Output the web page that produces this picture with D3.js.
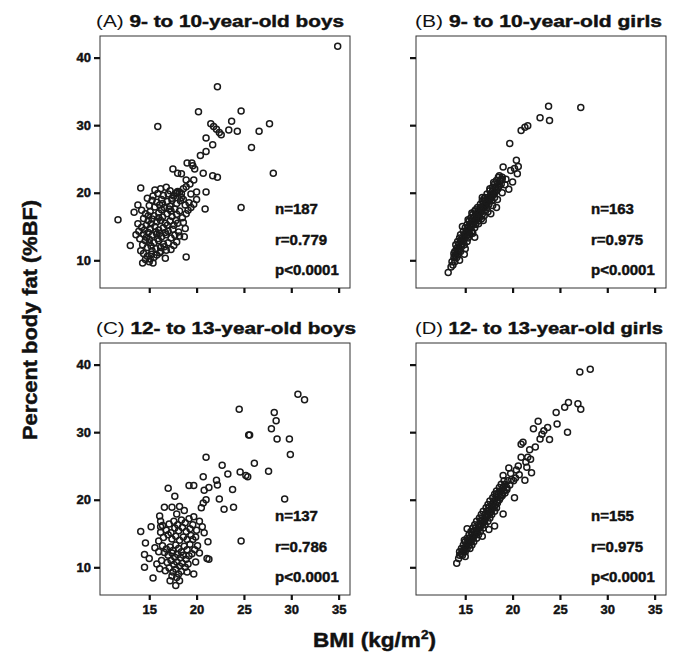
<!DOCTYPE html>
<html>
<head>
<meta charset="utf-8">
<script src="https://cdn.jsdelivr.net/npm/d3@7"></script>
<style>
  body { margin: 0; background: #fff; }
  text { font-family: Arial, "Liberation Sans", sans-serif; fill: #111; }
  .heavy { stroke: #111; stroke-width: 0.45px; }
</style>
</head>
<body>
<div id="chart"></div>
<script>
const width = 674, height = 655;
const pw = 250, ph = 252;

// tick values
const xTicks = [15, 20, 25, 30, 35];
const yTicks = [10, 20, 30, 40];

// panel titles and stats
const panelLetters = ["(A)", "(B)", "(C)", "(D)"];
const panelTitles = ["9- to 10-year-old boys", "9- to 10-year-old girls",
                     "12- to 13-year-old boys", "12- to 13-year-old girls"];
const panelN = ["n=187", "n=163", "n=137", "n=155"];
const panelR = ["r=0.779", "r=0.975", "r=0.786", "r=0.975"];
const panelP = ["p<0.0001", "p<0.0001", "p<0.0001", "p<0.0001"];

// [BMI, %BF]
const boys9 = [
  [34.9,41.7],[22.2,35.7],[20.2,32.0],[24.7,32.1],[15.9,29.8],[23.7,30.6],[27.7,30.2],[21.5,30.2],
  [21.8,29.8],[22.1,29.4],[22.4,28.9],[22.6,28.6],[23.4,29.3],[24.3,29.1],[26.6,29.1],[25.8,26.7],
  [21.0,28.1],[21.7,27.1],[21.0,26.1],[20.4,25.5],[19.0,24.4],[19.5,24.4],[19.6,24.0],[19.8,23.5],
  [17.5,23.5],[18.0,22.9],[18.4,22.8],[18.9,21.9],[19.7,21.9],[20.7,22.9],[21.7,22.5],[22.2,22.3],
  [28.1,22.9],[24.7,17.8],[20.9,17.6],[21.0,20.1],[20.0,20.1],[18.9,10.5],[11.7,16.0],[13.0,12.2],
  [14.1,20.7],[13.8,18.2],[13.4,17.1],[18.8,14.7],[18.7,13.5],[18.2,13.6],[17.9,12.7],[17.3,11.6],
  [16.7,10.3],[16.2,11.3],[18.4,19.9],[18.2,20.1],[17.9,20.0],[20.0,19.0],[19.7,18.3],[19.4,17.8],
  [19.2,18.5],
  [15.6,20.4],[16.2,20.6],[16.8,20.8],[17.2,20.3],[15.9,19.9],[16.5,19.6],[17.0,19.8],[17.6,19.5],
  [18.0,20.2],[18.6,20.6],[18.9,20.9],[19.3,21.3],
  [14.8,19.2],[15.3,18.9],[15.8,18.6],[16.3,19.0],[16.9,18.7],[17.4,18.9],[17.9,18.4],[18.3,18.8],
  [15.0,18.1],[15.6,17.9],[16.1,18.2],[16.6,17.8],[17.2,18.0],[17.7,17.6],[18.2,17.3],
  [14.2,17.4],[14.6,16.9],[15.1,17.2],[15.5,16.6],[16.0,17.0],[16.4,16.4],[16.9,16.9],[17.4,16.5],
  [17.9,16.8],[18.5,16.3],[14.4,16.2],[14.9,15.9],[15.3,16.1],[15.8,15.7],[16.2,15.9],[16.7,15.5],
  [17.2,15.8],[17.6,15.2],
  [13.8,15.4],[14.2,14.9],[14.7,15.2],[15.1,14.7],[15.6,15.0],[16.0,14.5],[16.5,14.8],[17.0,14.3],
  [17.5,14.6],[18.1,14.2],[13.9,14.3],[14.4,13.9],[14.9,14.1],[15.3,13.7],[15.8,13.9],[16.3,13.5],
  [16.8,13.8],[17.3,13.3],
  [14.0,13.2],[14.6,12.9],[15.0,13.1],[15.5,12.6],[16.0,12.9],[16.5,12.4],[17.0,12.6],[17.6,12.2],
  [14.3,12.3],[14.8,11.9],[15.2,12.1],[15.7,11.7],[16.2,11.9],[16.8,11.5],[13.6,13.8],[14.1,11.4],
  [14.4,11.0],[14.8,10.6],[15.2,10.9],[15.5,10.4],[14.6,10.1],[15.0,9.8],[15.4,9.6],[14.3,9.6],
  [15.8,10.8],[16.1,11.1],[15.1,10.2],
  [17.8,19.9],[18.4,19.3],[18.8,18.2],[19.1,17.4],[18.6,15.6],[18.0,15.5],[17.3,17.3],[18.9,16.9],
  [19.4,19.8],[16.7,14.1],[15.4,19.5],[16.0,16.3],[15.2,15.4],[14.5,14.5],[16.6,12.0],[15.9,13.2],
  [17.1,17.6],[16.4,18.4],[14.9,16.6],[17.8,15.9],[15.7,14.2],[16.9,15.2],[14.7,13.4],[17.4,19.2],
  [18.6,19.0],[15.3,11.4],[16.3,17.5],[15.0,12.6],[16.1,14.0],[17.7,13.7]
];

const girls9 = [
  [27.2,32.6],[23.8,32.8],[22.9,31.1],[23.9,30.7],[20.9,29.2],[21.3,29.7],[21.6,29.9],[19.7,27.3],
  [20.4,24.8],[19.0,23.8],[19.8,23.3],[20.2,23.6],[20.6,23.9],[20.5,22.8],[20.0,21.6],[19.6,20.5],
  [18.9,22.0],[18.6,22.5],[14.9,10.9],[13.2,8.2],[13.7,9.3],
  [13.5,9.0],[13.6,9.8],[13.9,9.8],[13.8,10.4],[14.1,10.4],[14.0,10.9],
  [13.9,11.3],[14.2,11.3],[14.5,11.3],[14.1,11.8],[14.4,11.8],
  [14.0,12.3],[14.3,12.3],[14.6,12.3],[14.9,12.3],[14.2,12.8],[14.5,12.8],[14.8,12.8],
  [14.4,13.3],[14.7,13.3],[15.0,13.3],[15.3,13.3],[14.5,13.8],[14.9,13.8],[15.2,13.8],
  [14.8,14.3],[15.1,14.3],[15.4,14.3],[15.7,14.3],[15.0,14.8],[15.3,14.8],[15.6,14.8],[16.0,14.8],
  [15.2,15.3],[15.5,15.3],[15.8,15.3],[16.1,15.3],[15.4,15.8],[15.7,15.8],[16.0,15.8],[16.4,15.8],
  [15.6,16.3],[15.9,16.3],[16.2,16.3],[16.5,16.3],[15.8,16.8],[16.1,16.8],[16.4,16.8],[16.8,16.8],
  [16.0,17.3],[16.4,17.3],[16.7,17.3],[17.0,17.3],[16.3,17.8],[16.6,17.8],[16.9,17.8],[17.3,17.8],
  [16.6,18.3],[16.9,18.3],[17.2,18.3],[17.5,18.3],[16.8,18.8],[17.1,18.8],[17.5,18.8],[17.8,18.8],
  [17.1,19.3],[17.4,19.3],[17.7,19.3],[18.1,19.3],[17.3,19.8],[17.7,19.8],[18.0,19.8],
  [17.6,20.3],[17.9,20.3],[18.3,20.3],[17.9,20.8],[18.2,20.8],[18.5,20.8],
  [18.1,21.3],[18.4,21.3],[18.8,21.3],[18.3,21.8],[18.7,21.8],[18.5,22.3],[18.9,22.3],
  [14.2,10.8],[14.3,11.6],[14.6,12.0],[14.6,13.0],[14.9,13.5],[15.1,14.0],[15.4,14.6],[15.6,15.1],
  [15.9,15.6],[16.2,16.0],[16.3,16.6],[16.6,17.0],[16.8,17.6],[17.1,18.0],[17.3,18.6],[17.6,19.0],
  [17.8,19.6],[18.1,20.0],[18.4,20.5],[18.6,21.0],[16.7,16.1],[17.0,16.6],[15.2,12.8],[13.8,11.0],
  [15.8,14.0],[16.4,15.4],[17.4,17.2],[17.9,18.1],[18.4,19.0],[18.9,20.0],[19.2,21.2],[19.3,22.0],
  [15.0,11.7],[16.0,13.4],[14.4,10.0],[13.9,10.6],[15.5,13.8],[16.9,15.9],[17.7,16.9],[18.3,17.8],
  [15.3,16.0],[16.1,17.5],[17.0,19.1],[17.6,20.6],[18.0,21.5],[16.8,19.3],[15.7,17.0],[14.7,15.0]
];

const boys12 = [
  [30.7,35.6],[31.4,34.8],[24.5,33.4],[28.2,32.9],[28.4,31.7],[27.9,30.5],[25.5,29.6],[25.6,29.6],
  [28.5,29.0],[29.8,29.0],[29.9,26.7],[21.0,26.3],[26.1,25.4],[22.7,25.1],[27.6,24.2],[24.6,24.1],
  [23.3,23.8],[25.2,23.6],[25.4,23.4],[22.1,22.9],[22.2,22.2],[20.7,23.4],[19.2,22.1],[19.7,22.1],
  [23.8,21.5],[21.3,21.8],[20.8,21.4],[22.4,20.1],[21.0,20.0],[20.7,19.5],[20.5,18.8],[22.9,18.6],
  [23.9,18.9],[29.3,20.1],[24.7,13.9],[17.0,21.7],[17.7,20.5],[16.6,18.9],[17.4,18.9],[18.2,19.0],
  [18.7,18.4],[17.9,17.9],[14.1,15.3],[15.2,16.0],[16.1,17.6],[16.2,16.8],[16.2,16.0],[14.6,13.6],
  [14.5,11.9],[15.0,11.3],[14.5,10.0],[15.4,8.4],[17.2,8.0],[17.8,7.3],[18.2,8.0],[19.7,9.0],
  [19.0,9.3],[21.2,13.8],[21.1,11.3],[21.3,11.2],[20.3,16.8],[20.6,16.0],[20.8,15.1],[20.0,15.5],
  [19.6,14.1],[19.9,14.5],
  [16.0,13.9],[16.4,13.2],[16.8,12.7],[17.2,13.0],[17.5,12.5],[17.8,13.3],[18.1,12.8],[18.4,12.3],
  [18.7,13.1],[19.0,12.6],[19.3,13.4],[16.6,12.2],[17.0,11.8],[17.4,12.1],[17.7,11.5],[18.0,11.9],
  [18.3,11.4],[18.6,11.8],[18.9,11.2],[19.2,11.7],[19.5,12.0],[16.3,11.0],[16.9,10.7],[17.3,11.0],
  [17.6,10.4],[17.9,10.8],[18.2,10.2],[18.5,10.6],[18.8,10.0],[19.1,10.5],[16.1,9.8],[16.7,9.5],
  [17.1,9.9],[17.5,9.3],[17.8,9.7],[18.1,9.0],[18.4,9.4],[17.4,8.7],[17.9,8.5],[16.5,14.4],
  [17.0,14.8],[17.4,14.2],[17.8,14.6],[18.2,14.0],[18.6,14.5],[19.0,14.1],[19.4,14.7],[16.2,15.2],
  [16.8,15.5],[17.3,15.1],[17.7,15.8],[18.1,15.4],[18.5,15.9],[18.9,15.3],[19.3,15.7],[19.6,16.3],
  [17.1,16.4],[17.6,16.8],[18.0,16.3],[18.4,17.0],[18.8,16.6],[19.2,17.2],[19.7,17.5],[16.0,12.3],
  [15.8,10.5],[19.8,12.6],[20.1,13.2],[20.3,12.1],[19.9,10.8],[15.6,12.9],[16.4,16.2]
];

const girls12 = [
  [28.2,39.3],[27.1,38.9],[25.9,34.4],[25.5,33.7],[24.6,32.9],[26.9,34.2],[27.2,33.4],[25.8,30.0],
  [24.7,31.2],[22.7,31.6],[23.7,30.7],[22.2,30.5],[23.1,29.7],[22.9,29.0],[23.9,28.9],[23.3,30.2],
  [21.1,28.5],[20.9,28.2],[21.8,27.4],[21.6,26.3],[20.9,26.3],[22.0,24.0],[21.3,22.9],[20.2,20.3],
  [19.6,24.7],[19.0,23.6],[19.8,23.9],[20.4,24.4],[20.7,23.7],[20.1,22.8],[19.4,21.8],[18.3,20.9],
  [19.0,17.9],[18.1,16.1],[15.2,15.7],[14.1,10.6],[14.3,11.3],
  [14.4,11.8],[14.7,11.8],[14.4,12.3],[14.7,12.3],[15.0,12.3],
  [14.6,12.8],[14.9,12.8],[15.2,12.8],[15.5,12.8],[14.8,13.3],[15.1,13.3],[15.4,13.3],[15.7,13.3],
  [15.0,13.8],[15.3,13.8],[15.6,13.8],[15.9,13.8],[15.2,14.3],[15.5,14.3],[15.8,14.3],[16.2,14.3],
  [15.4,14.8],[15.7,14.8],[16.0,14.8],[16.4,14.8],[15.6,15.3],[15.9,15.3],[16.2,15.3],[16.6,15.3],
  [15.8,15.8],[16.1,15.8],[16.5,15.8],[16.9,15.8],[16.0,16.3],[16.4,16.3],[16.7,16.3],[17.1,16.3],
  [16.2,16.8],[16.6,16.8],[17.0,16.8],[17.4,16.8],[16.5,17.3],[16.8,17.3],[17.2,17.3],[17.6,17.3],
  [16.7,17.8],[17.1,17.8],[17.4,17.8],[17.8,17.8],[16.9,18.3],[17.3,18.3],[17.7,18.3],[18.1,18.3],
  [17.2,18.8],[17.5,18.8],[17.9,18.8],[18.3,18.8],[17.4,19.3],[17.8,19.3],[18.2,19.3],
  [17.6,19.8],[18.0,19.8],[18.4,19.8],[17.9,20.3],[18.3,20.3],[18.7,20.3],
  [18.1,20.8],[18.5,20.8],[18.9,20.8],[18.3,21.3],[18.7,21.3],[19.1,21.3],
  [18.6,21.8],[19.0,21.8],[18.8,22.3],[19.2,22.3],[19.1,22.8],[19.5,22.8],
  [14.6,12.0],[14.9,12.5],[15.1,13.0],[15.3,13.6],[15.6,14.0],[15.9,14.6],[16.1,15.0],[16.3,15.6],
  [16.6,16.0],[16.9,16.6],[17.0,17.0],[17.3,17.6],[17.6,18.0],[17.8,18.6],[18.1,19.0],[18.4,19.5],
  [18.6,20.0],[18.9,20.6],[19.2,21.0],[19.4,21.5],[19.7,22.2],[19.9,23.0],[20.3,23.2],[20.6,25.0],
  [21.4,25.6],[21.9,26.0],[22.4,27.8],[21.5,24.8],[16.8,14.6],[17.5,15.6],[14.9,14.0],[15.0,11.6]
];

const panelData = [boys9, girls9, boys12, girls12];
const panelPos = [[100, 36], [416, 36], [100, 343], [416, 343]];
const titleWidths = [248, 247, 260, 248];

const x = d3.scaleLinear().domain([9.8, 36.2]).range([0, pw]);
const y = d3.scaleLinear().domain([5.9, 43.2]).range([ph, 0]);

const svg = d3.select("#chart")
  .append("svg")
  .attr("width", width)
  .attr("height", height);

panelData.forEach((data, i) => {
  const [left, top] = panelPos[i];
  const leftCol = i % 2 === 0;
  const bottomRow = i >= 2;
  const g = svg.append("g").attr("transform", `translate(${left},${top})`);

  // title (stretched to the width in the picture)
  const title = g.append("text")
    .attr("x", left === 100 ? -4 : -1)
    .attr("y", -9)
    .attr("textLength", titleWidths[i])
    .attr("lengthAdjust", "spacingAndGlyphs")
    .style("font-size", "17px");
  title.append("tspan").style("font-weight", "normal").text(panelLetters[i] + " ");
  title.append("tspan").attr("class", "heavy").style("font-weight", "bold").text(panelTitles[i]);

  // frame
  g.append("rect")
    .attr("width", pw)
    .attr("height", ph)
    .attr("fill", "none")
    .attr("stroke", "#333")
    .attr("stroke-width", 1);

  // axes
  const xAxis = d3.axisBottom(x).tickValues(xTicks).tickSize(5).tickPadding(5);
  if (!bottomRow) xAxis.tickFormat("");
  const gx = g.append("g").attr("transform", `translate(0,${ph})`).call(xAxis);

  const yAxis = d3.axisLeft(y).tickValues(yTicks).tickSize(6).tickPadding(3);
  if (!leftCol) yAxis.tickFormat("");
  const gy = g.append("g").call(yAxis);

  [gx, gy].forEach(a => {
    a.select(".domain").remove();
    a.selectAll(".tick line").attr("stroke", "#111").attr("stroke-width", 2.2);
    a.selectAll(".tick text")
      .attr("class", "heavy")
      .style("font-size", "13px")
      .style("font-weight", "bold")
      .attr("fill", "#111");
  });

  // points
  g.append("g")
    .selectAll("circle")
    .data(data)
    .join("circle")
    .attr("cx", d => x(d[0]))
    .attr("cy", d => y(d[1]))
    .attr("r", 3)
    .attr("fill", "none")
    .attr("stroke", "#1a1a1a")
    .attr("stroke-width", 1.5);

  // stats
  [panelN[i], panelR[i], panelP[i]].forEach((s, k) => {
    g.append("text")
      .attr("class", "heavy")
      .attr("x", 175)
      .attr("y", 178 + k * 30.5)
      .style("font-size", "15px")
      .style("font-weight", "bold")
      .text(s);
  });
});

// axis titles
svg.append("text")
  .attr("class", "heavy")
  .attr("transform", `translate(37,320) rotate(-90)`)
  .attr("text-anchor", "middle")
  .attr("textLength", 240)
  .attr("lengthAdjust", "spacingAndGlyphs")
  .style("font-size", "20px")
  .style("font-weight", "bold")
  .text("Percent body fat (%BF)");

const xl = svg.append("text")
  .attr("class", "heavy")
  .attr("x", 313)
  .attr("y", 647)
  .attr("textLength", 123)
  .attr("lengthAdjust", "spacingAndGlyphs")
  .style("font-size", "20px")
  .style("font-weight", "bold");
xl.append("tspan").text("BMI (kg/m");
xl.append("tspan").attr("dy", -8).style("font-size", "12px").text("2");
xl.append("tspan").attr("dy", 8).text(")");
</script>
</body>
</html>
